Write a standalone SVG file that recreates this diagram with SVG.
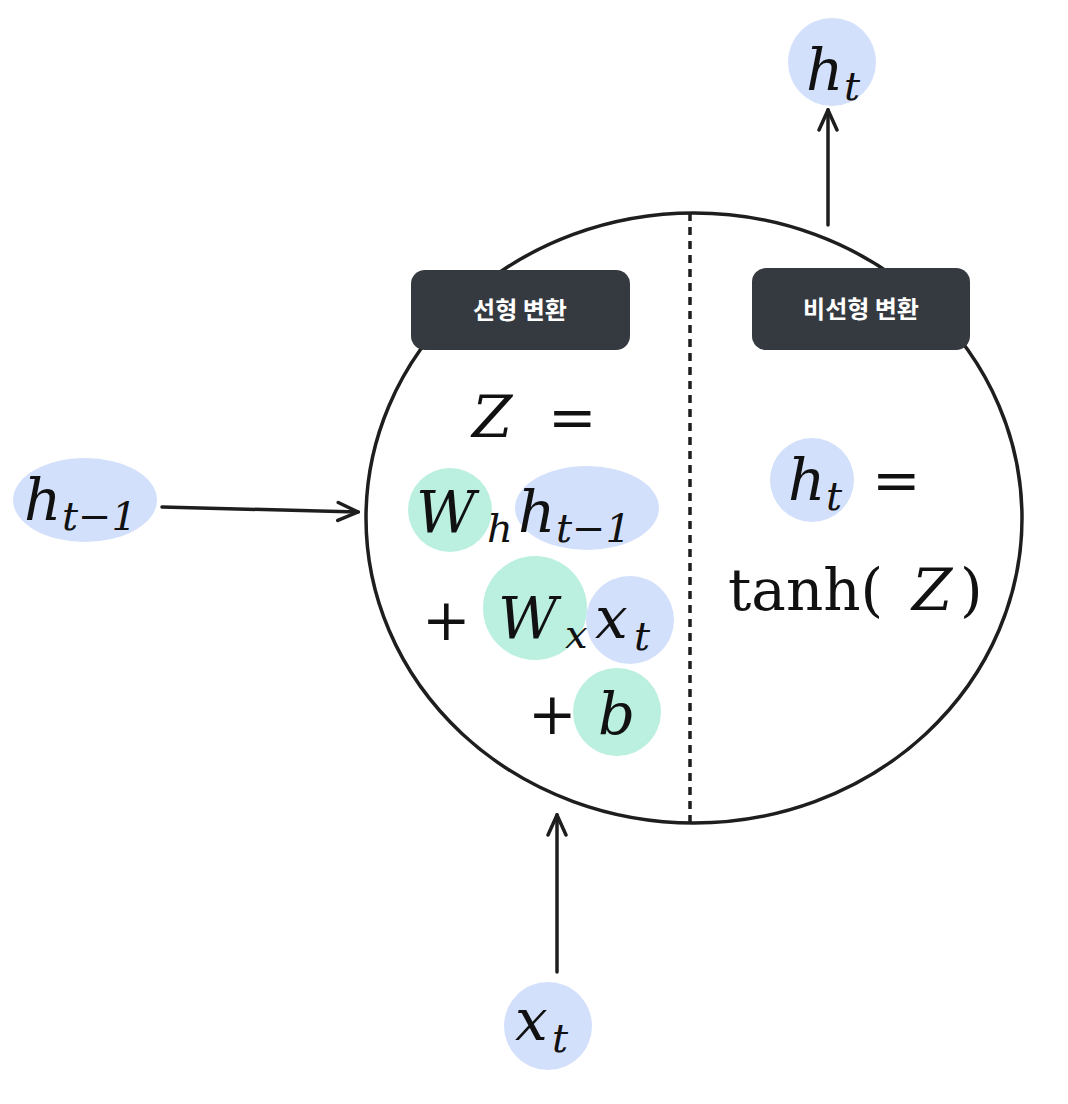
<svg xmlns="http://www.w3.org/2000/svg" width="1068" height="1104" viewBox="0 0 1068 1104">
<style>
.m{font-family:"DejaVu Serif","Liberation Serif",serif;font-style:italic;font-size:58px;fill:#111}
.s{font-family:"DejaVu Serif","Liberation Serif",serif;font-style:italic;font-size:40px;fill:#111}
.r{font-family:"DejaVu Serif","Liberation Serif",serif;font-size:58px;fill:#111}
.b{fill:#d3e0fb}.g{fill:#bbf0e0}
.lbl{font-family:"Noto Sans CJK KR","Noto Sans",sans-serif;font-size:24px;font-weight:bold;fill:#fff}
.ln{stroke:#1e1e1e;stroke-width:3.5;fill:none;stroke-linecap:round}
</style>
<defs><marker id="a" viewBox="0 0 12 12" refX="11" refY="6" markerWidth="12" markerHeight="12" markerUnits="userSpaceOnUse" orient="auto"><path d="M1 1 L11 6 L1 11" fill="none" stroke="#1e1e1e" stroke-width="2.5" stroke-linecap="round"/></marker>
<marker id="ab" viewBox="0 0 24 24" refX="22" refY="12" markerWidth="24" markerHeight="24" markerUnits="userSpaceOnUse" orient="auto"><path d="M2 3 L22 12 L2 21" fill="none" stroke="#1e1e1e" stroke-width="3.5" stroke-linecap="round"/></marker></defs>
<g id="cell">
<ellipse cx="694" cy="518" rx="328" ry="305" fill="none" stroke="#1e1e1e" stroke-width="3.5"/>
<line x1="690" y1="213" x2="690" y2="825" stroke="#1e1e1e" stroke-width="3.5" stroke-dasharray="8 6"/>
</g>
<g id="label-linear"><rect x="411" y="270" width="219" height="80" rx="14" fill="#353a40"/><text x="520" y="319" text-anchor="middle" class="lbl">선형 변환</text></g>
<g id="label-nonlinear"><rect x="752" y="268" width="218" height="82" rx="14" fill="#353a40"/><text x="861" y="318" text-anchor="middle" class="lbl">비선형 변환</text></g>
<g id="ht-out"><circle cx="832" cy="62" r="44" class="b"/><text x="806" y="90" class="m">h</text><text x="844" y="100" class="s">t</text></g>
<g id="htm1-in"><ellipse cx="85" cy="500" rx="72" ry="42" class="b"/><text x="24" y="520" class="m">h</text><text x="62" y="530" class="s">t−1</text></g>
<g id="xt-in"><circle cx="548" cy="1026" r="44" class="b"/><text x="515" y="1040" class="m">x</text><text x="552" y="1052" class="s">t</text></g>
<g id="linear-eq">
<text x="472" y="437" class="m">Z</text><text x="548" y="437" class="r">=</text>
<circle cx="450" cy="510" r="42" class="g"/><ellipse cx="587" cy="508" rx="72" ry="42" class="b"/>
<text x="416" y="532" class="m">W</text><text x="487" y="542" class="s">h</text>
<text x="518" y="532" class="m">h</text><text x="556" y="542" class="s">t−1</text>
<circle cx="535" cy="608" r="52" class="g"/><circle cx="630" cy="620" r="44" class="b"/>
<text x="422" y="640" class="r">+</text><text x="498" y="638" class="m">W</text><text x="565" y="648" class="s">x</text>
<text x="595" y="638" class="m">x</text><text x="634" y="650" class="s">t</text>
<circle cx="617" cy="712" r="44" class="g"/>
<text x="528" y="734" class="r">+</text><text x="598" y="734" class="m">b</text>
</g>
<g id="nonlinear-eq">
<circle cx="812" cy="480" r="42" class="b"/>
<text x="788" y="500" class="m">h</text><text x="826" y="510" class="s">t</text><text x="872" y="500" class="r">=</text>
<text x="728" y="610" class="r">tanh(</text><text x="912" y="610" class="m">Z</text><text x="960" y="610" class="r">)</text>
</g>
<g id="connectors">
<line x1="828" y1="225" x2="828" y2="110" class="ln" marker-end="url(#ab)"/>
<line x1="162" y1="507" x2="358" y2="512" class="ln" marker-end="url(#ab)"/>
<line x1="557" y1="972" x2="557" y2="815" class="ln" marker-end="url(#ab)"/>
</g>
</svg>
